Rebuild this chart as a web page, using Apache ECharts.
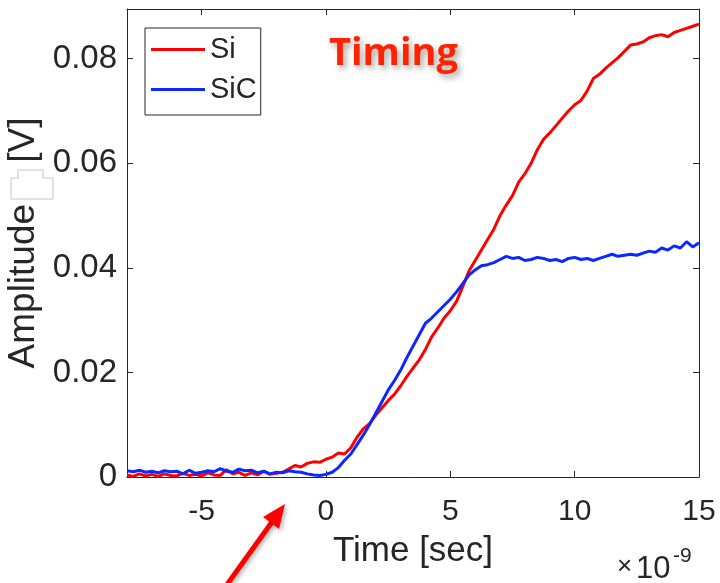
<!DOCTYPE html>
<html>
<head>
<meta charset="utf-8">
<script src="https://cdn.jsdelivr.net/npm/echarts@6/dist/echarts.min.js"></script>
<style>
  html, body { margin: 0; padding: 0; background: #fff; }
  #chart { width: 720px; height: 583px; }
</style>
</head>
<body>
<div id="chart"></div>
<script>
// sample times in ns (-8 .. 15, step 0.25), amplitudes in mV
const tStart = -8;
const tStep = 0.25;

const siMv = [
  0.4, 0.1, 0.6, 0.2, 0.5, 0.1, 0.6, 0.3, 0.2, 0.7,
  0.3, 0.5, 0.2, 0.8, 0.4, 0.3, 1.4, 0.6, 0.9, 0.3,
  0.8, 0.4, 1.1, 0.5, 0.7, 0.9, 1.5, 2.2, 1.9, 2.6,
  2.9, 2.8, 3.4, 3.8, 4.6, 4.4, 5.6, 7.6, 9.2, 10.2,
  11.8, 13.2, 14.6, 15.8, 17.4, 19.2, 20.8, 22.4, 24.4, 26.8,
  28.5, 30.4, 31.8, 33.6, 36.4, 39.4, 41.4, 43.4, 45.4, 47.4,
  50.0, 52.0, 53.8, 56.4, 58.0, 60.0, 62.6, 64.6, 65.8, 67.2,
  68.6, 70.0, 71.2, 72.0, 73.8, 76.2, 77.0, 78.2, 79.2, 80.2,
  81.4, 82.6, 82.8, 83.2, 84.0, 84.4, 84.6, 84.2, 85.0, 85.4,
  85.8, 86.2, 86.6
];

const sicMv = [
  1.2, 1.0, 1.3, 0.9, 1.1, 0.8, 1.2, 1.0, 1.1, 0.6,
  1.3, 0.7, 0.9, 1.2, 1.0, 1.6, 1.1, 0.9, 1.5, 1.2,
  1.3, 0.8, 1.1, 0.6, 0.9, 0.8, 1.2, 1.0, 0.9, 0.6,
  0.4, 0.3, 0.5, 0.9, 1.8, 3.2, 4.4, 6.2, 8.0, 10.0,
  12.2, 14.4, 16.6, 18.4, 20.4, 22.8, 25.0, 27.2, 29.4, 30.4,
  31.6, 32.8, 34.0, 35.4, 37.0, 38.6, 39.6, 40.4, 40.6, 41.0,
  41.6, 42.2, 41.8, 42.0, 41.4, 41.6, 42.0, 41.8, 41.4, 41.6,
  41.2, 41.8, 42.0, 41.6, 41.8, 41.4, 41.8, 42.2, 42.6, 42.2,
  42.4, 42.6, 42.4, 42.8, 43.2, 43.0, 43.8, 43.4, 44.2, 43.8,
  45.0, 44.0, 44.8
];

const xTicks = [-5, 0, 5, 10, 15];
const yTicks = [0, 0.02, 0.04, 0.06, 0.08];

const seriesNames = ['Si', 'SiC'];
const seriesColors = ['#ff0000', '#0a28ff'];

function toPoints(mv) {
  return mv.map((v, i) => [tStart + i * tStep, v / 1000]);
}

const axisColor = '#262626';
const font = 'Liberation Sans';

const chart = echarts.init(document.getElementById('chart'));

const xBase = {
  type: 'value',
  min: -8,
  max: 15,
  splitLine: { show: false },
  axisLine: { show: true, onZero: false, lineStyle: { color: axisColor, width: 1 } },
  axisTick: { show: true, inside: true, length: 6, customValues: xTicks, lineStyle: { color: axisColor } }
};
const yBase = {
  type: 'value',
  min: 0,
  max: 0.0895,
  splitLine: { show: false },
  axisLine: { show: true, onZero: false, lineStyle: { color: axisColor, width: 1 } },
  axisTick: { show: true, inside: true, length: 6, customValues: yTicks, lineStyle: { color: axisColor } }
};

const option = {
  backgroundColor: '#ffffff',
  animation: false,
  grid: { left: 127, right: 21, top: 9, bottom: 106, outerBoundsMode: 'none' },
  legend: {
    data: seriesNames,
    orient: 'vertical',
    left: 145,
    top: 28,
    icon: 'rect',
    itemWidth: 54,
    itemHeight: 3,
    itemGap: 11,
    padding: [7, 4, 11, 6],
    borderColor: axisColor,
    borderWidth: 1,
    backgroundColor: '#fff',
    textStyle: { fontFamily: font, fontSize: 29, color: axisColor }
  },
  xAxis: [
    Object.assign({}, xBase, {
      position: 'bottom',
      name: 'Time [sec]',
      nameLocation: 'middle',
      nameGap: 57,
      nameTextStyle: { fontFamily: font, fontSize: 35, color: axisColor },
      axisLabel: { customValues: xTicks, fontFamily: font, fontSize: 30, color: axisColor, margin: 20 }
    }),
    Object.assign({}, xBase, { position: 'top', axisLabel: { show: false } })
  ],
  yAxis: [
    Object.assign({}, yBase, {
      position: 'left',
      name: 'Amplitude    [V]',
      nameLocation: 'middle',
      nameGap: 76,
      nameTextStyle: { fontFamily: font, fontSize: 37, color: axisColor },
      axisLabel: {
        customValues: yTicks,
        fontFamily: font, fontSize: 33, color: axisColor, margin: 10,
        formatter: v => (v === 0 ? '0' : v.toFixed(2))
      }
    }),
    Object.assign({}, yBase, { position: 'right', axisLabel: { show: false } })
  ],
  series: [
    {
      name: seriesNames[0],
      type: 'line',
      data: toPoints(siMv),
      showSymbol: false,
      color: seriesColors[0],
      lineStyle: { width: 3, color: seriesColors[0] }
    },
    {
      name: seriesNames[1],
      type: 'line',
      data: toPoints(sicMv),
      showSymbol: false,
      color: seriesColors[1],
      lineStyle: { width: 3, color: seriesColors[1] }
    }
  ],
  graphic: [
    {
      type: 'text',
      left: 329,
      top: 35,
      z: 100,
      style: {
        text: 'Timing',
        font: 'bold 38px "Open Sans"',
        fill: '#ff2200',
        textShadowColor: 'rgba(0,0,0,0.35)',
        textShadowBlur: 6,
        textShadowOffsetX: 3,
        textShadowOffsetY: 4
      }
    },
    {
      type: 'text',
      left: 617,
      top: 554,
      style: { text: '\u00d7', font: '26px "Liberation Sans"', fill: axisColor }
    },
    {
      type: 'text',
      left: 636,
      top: 554,
      style: { text: '10', font: '31px "Liberation Sans"', fill: axisColor }
    },
    {
      type: 'text',
      left: 673,
      top: 546,
      style: { text: '-9', font: '21px "Liberation Sans"', fill: axisColor }
    },
    {
      // small box artifact over the y label
      type: 'polygon',
      z: 100,
      shape: { points: [[11, 178], [18, 178], [18, 170], [43, 170], [43, 178], [53, 178], [53, 199], [11, 199]] },
      style: { fill: '#fff', stroke: '#c4c4c4', lineWidth: 1 }
    },
    {
      type: 'line',
      z: 100,
      shape: { x1: 226, y1: 586, x2: 272, y2: 522 },
      style: { stroke: '#ff0000', lineWidth: 5, shadowColor: 'rgba(0,0,0,0.3)', shadowBlur: 4, shadowOffsetX: 2, shadowOffsetY: 2 }
    },
    {
      type: 'polygon',
      z: 100,
      shape: { points: [[285, 504], [279, 529], [263, 517]] },
      style: { fill: '#ff0000', shadowColor: 'rgba(0,0,0,0.3)', shadowBlur: 4, shadowOffsetX: 2, shadowOffsetY: 2 }
    }
  ]
};

chart.setOption(option);
</script>
</body>
</html>
